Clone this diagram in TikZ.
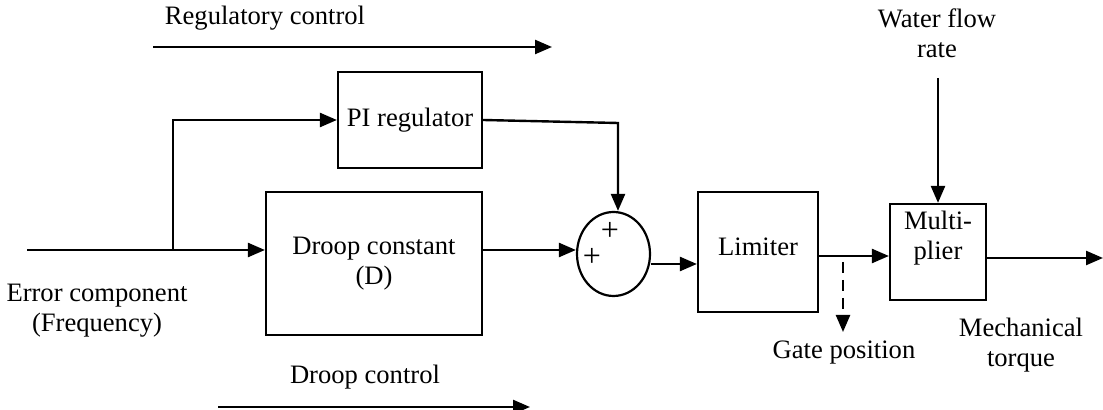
\documentclass[tikz,border=0pt]{standalone}
\usepackage{fontspec}
\setmainfont{Liberation Serif}
\usetikzlibrary{arrows.meta,shapes.geometric}
\begin{document}
\begin{tikzpicture}[x=0.5pt,y=-0.5pt,
  every node/.style={font=\fontsize{13.3}{15}\selectfont, inner sep=0pt, align=center},
  blk/.style={draw, line width=1.1pt, rectangle},
  arr/.style={line width=1.2pt, -{Triangle[length=8.5pt,width=7pt]}},
  plus/.style={font=\fontsize{16}{16}\selectfont},
  ]
\useasboundingbox (0,0) rectangle (1103,410);
% blocks
\node[blk, minimum width={144*0.5pt}, minimum height={96*0.5pt}] (pi) at (410,120) {PI regulator};
\node[blk, minimum width={216*0.5pt}, minimum height={143*0.5pt}] (droop) at (374,263.5) {Droop constant\\(D)};
\node[draw, line width=1.1pt, ellipse, minimum width={73*0.5pt}, minimum height={84*0.5pt}] (sum) at (613.5,254) {};
\node[blk, minimum width={120*0.5pt}, minimum height={120*0.5pt}] (lim) at (758,252) {};
\node (limtxt) at (758,246.5) {Limiter};
\node[blk, minimum width={96*0.5pt}, minimum height={96*0.5pt}] (mult) at (938,252) {};
\node (multtxt) at (938,238.5) {Multi-\\plier};
% plus signs
\node[plus] (p1) at (610,231) {+};
\node[plus] (p2) at (592,257) {+};
% labels
\node (reg) at (265,18) {Regulatory control};
\node (drc) at (365,377) {Droop control};
\node (err) at (97,311) {Error component\\(Frequency)};
\node (water) at (937,33) {Water flow\\rate};
\node (gate) at (844,353) {Gate position};
\node (mech) at (1021,345) {Mechanical\\torque};
% coordinates
\coordinate (in) at (27,250);
\coordinate (br) at (173,250);
\coordinate (pibend) at (618,123);
\coordinate (s) at (0,264);
\coordinate (g) at (0,256);
\coordinate (gs) at (843,262);
\coordinate (ge) at (843,332);
\coordinate (o) at (0,258);
\coordinate (out) at (1103,258);
\coordinate (wtop) at (938,78);
\coordinate (r1) at (153,47);
\coordinate (r2) at (552,47);
\coordinate (d1) at (218,407);
\coordinate (d2) at (530,407);
% connectors
\draw[arr] (in) -- (droop.west |- in);
\draw[arr] (br) -- (br |- pi.west) -- (pi.west);
\draw[arr] (pi.east) -- (pibend) -- (pibend |- sum.north);
\draw[arr] (droop.east |- in) -- (sum.west |- in);
\draw[arr] (sum.east |- s) -- (lim.west |- s);
\draw[arr] (lim.east |- g) -- (mult.west |- g);
\draw[arr, dash pattern=on 5.5pt off 3.5pt] (gs) -- (ge);
\draw[arr] (mult.east |- o) -- (out);
\draw[arr] (wtop) -- (mult.north);
\draw[arr] (r1) -- (r2);
\draw[arr] (d1) -- (d2);
\end{tikzpicture}
\end{document}
